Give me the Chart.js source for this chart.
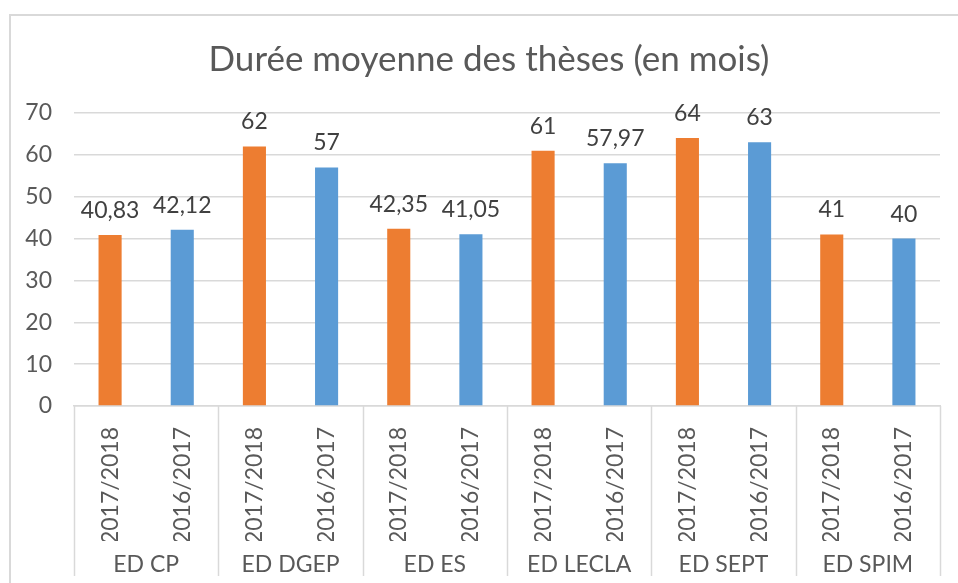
<!DOCTYPE html>
<html>
<head>
<meta charset="utf-8">
<script src="https://cdn.jsdelivr.net/npm/chart.js@4"></script>
<style>
  html, body { margin: 0; padding: 0; background: #fff; overflow: hidden; }
  #wrap { position: relative; width: 958px; height: 583px; }
  #frame { position: absolute; left: 9px; top: 14px; width: 1200px; height: 1200px; border: 2px solid #d9d9d9; }
  #chart { position: absolute; left: 0; top: 0; }
</style>
</head>
<body>
<div id="wrap">
  <div id="frame"></div>
  <canvas id="chart" width="958" height="583"></canvas>
</div>
<script>
const groups = ["ED CP", "ED DGEP", "ED ES", "ED LECLA", "ED SEPT", "ED SPIM"];
const years = ["2017/2018", "2016/2017"];
const values2018 = [40.83, 62, 42.35, 61, 64, 41];
const values2017 = [42.12, 57, 41.05, 57.97, 63, 40];
const yTicks = [0, 10, 20, 30, 40, 50, 60, 70];

const orange = "#ed7d31";
const blue = "#5b9bd5";

// interleave the two series so each group gets 2017/2018 then 2016/2017
let labels = [];
let values = [];
let colors = [];
for (let i = 0; i < groups.length; i++) {
  labels.push(years[0], years[1]);
  values.push(values2018[i], values2017[i]);
  colors.push(orange, blue);
}

const font = "Lato";

// value labels above the bars, french decimal comma
const valueLabels = {
  id: "valueLabels",
  afterDatasetsDraw(chart) {
    const ctx = chart.ctx;
    const meta = chart.getDatasetMeta(0);
    ctx.save();
    ctx.font = "23px " + font;
    ctx.fillStyle = "#404040";
    ctx.textAlign = "center";
    ctx.textBaseline = "alphabetic";
    meta.data.forEach((bar, i) => {
      ctx.fillText(String(values[i]).replace(".", ","), bar.x, bar.y - 17);
    });
    ctx.restore();
  },
};

// vertical dividers between the groups, across both label rows
const dividers = {
  id: "dividers",
  afterDraw(chart) {
    const x = chart.scales.x;
    const x2 = chart.scales.x2;
    const ctx = chart.ctx;
    let xs = [x.left];
    for (let i = 1; i < groups.length; i++) {
      xs.push((x.getPixelForValue(i * 2 - 1) + x.getPixelForValue(i * 2)) / 2);
    }
    xs.push(x.right);
    ctx.save();
    ctx.strokeStyle = "#d9d9d9";
    ctx.lineWidth = 1.5;
    xs.forEach((px) => {
      ctx.beginPath();
      ctx.moveTo(Math.round(px) + 0.5, x.top);
      ctx.lineTo(Math.round(px) + 0.5, x2.bottom);
      ctx.stroke();
    });
    ctx.restore();
  },
};

new Chart(document.getElementById("chart"), {
  type: "bar",
  data: {
    labels: labels,
    datasets: [
      {
        data: values,
        backgroundColor: colors,
        borderWidth: 0,
        categoryPercentage: 1,
        barPercentage: 0.32,
      },
    ],
  },
  options: {
    responsive: false,
    animation: false,
    layout: { padding: { left: 20, right: 0, top: 0, bottom: 7 } },
    plugins: {
      legend: { display: false },
      tooltip: { enabled: false },
      title: {
        display: true,
        text: "Durée moyenne des thèses (en mois)",
        color: "#595959",
        font: { family: font, size: 35, weight: "normal" },
        padding: { top: 39, bottom: 32 },
      },
    },
    scales: {
      y: {
        min: 0,
        max: 70,
        afterBuildTicks(scale) {
          scale.ticks = yTicks.map((v) => ({ value: v }));
        },
        afterFit(scale) {
          scale.width = 54;
        },
        grid: { color: "#d9d9d9", lineWidth: 1.5, drawTicks: false },
        border: { display: false },
        ticks: {
          color: "#595959",
          font: { family: font, size: 23 },
          padding: 22,
        },
      },
      // empty spacer on the right so the plot ends where the reference does
      yRight: {
        position: "right",
        min: 0,
        max: 70,
        grid: { display: false },
        border: { display: false },
        ticks: { display: false },
        afterFit(scale) {
          scale.width = 18;
        },
      },
      x: {
        weight: 0,
        grid: { display: false },
        border: { display: true, color: "#d9d9d9", width: 1.5 },
        afterFit(scale) {
          scale.height = 135;
        },
        ticks: {
          color: "#595959",
          font: { family: font, size: 23 },
          minRotation: 90,
          maxRotation: 90,
          padding: 13,
          autoSkip: false,
        },
      },
      x2: {
        type: "category",
        position: "bottom",
        weight: 1,
        labels: groups,
        offset: true,
        grid: { display: false },
        border: { display: false },
        afterFit(scale) {
          scale.height = 35;
        },
        ticks: {
          color: "#595959",
          font: { family: font, size: 23 },
          padding: 2,
        },
      },
    },
  },
  plugins: [valueLabels, dividers],
});
</script>
</body>
</html>
